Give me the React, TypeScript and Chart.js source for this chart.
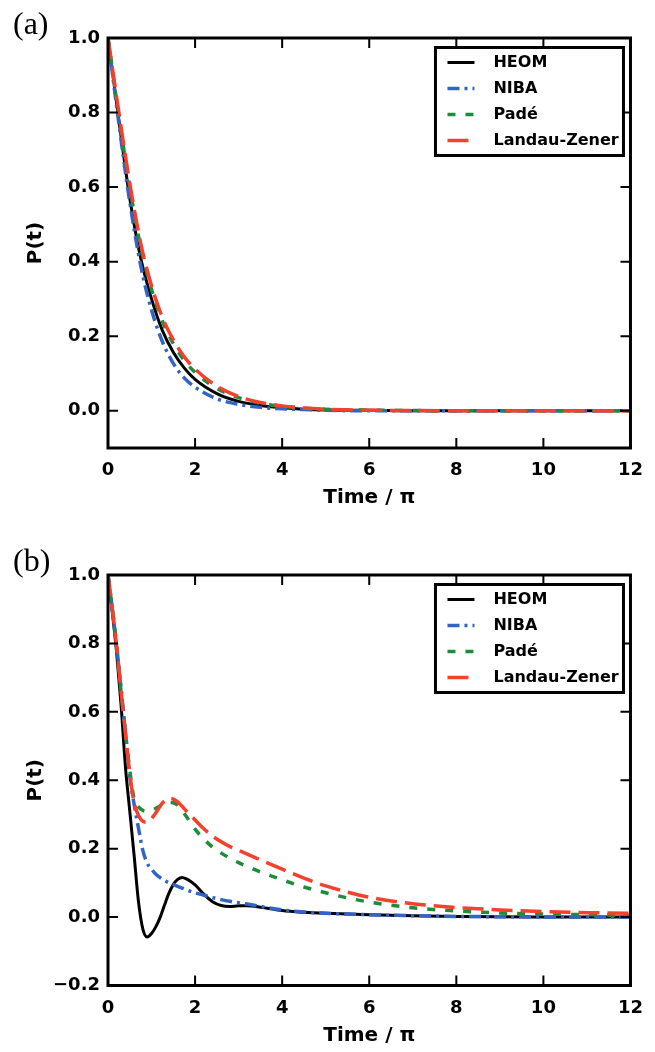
import React, { useEffect, useRef } from 'react';
import { Chart, registerables } from 'chart.js';

Chart.register(...registerables);

// ---------- DATA ----------
const SERIES_NAMES = ['HEOM', 'NIBA', 'Padé', 'Landau-Zener'];
const X_TICK_STEP = 2;
const Y_TICK_STEP = 0.2;

// Panel (a)
const TIME_A = [0, 0.25, 0.5, 0.75, 1, 1.25, 1.5, 1.75, 2, 2.5, 3, 3.5, 4, 4.5, 5, 6, 7, 8, 9, 10, 11, 12];
const HEOM_A = [1.0, 0.78, 0.57, 0.41, 0.30, 0.215, 0.157, 0.115, 0.084, 0.046, 0.025, 0.014, 0.008, 0.004, 0.002, 0.001, 0, 0, 0, 0, 0, 0];
const NIBA_A = [1.0, 0.77, 0.56, 0.39, 0.27, 0.185, 0.127, 0.088, 0.063, 0.032, 0.017, 0.009, 0.005, 0.003, 0.001, 0, 0, 0, 0, 0, 0, 0];
const PADE_A = [1.0, 0.79, 0.60, 0.44, 0.325, 0.24, 0.18, 0.135, 0.103, 0.06, 0.035, 0.02, 0.012, 0.007, 0.004, 0.0015, 0.0005, 0, 0, 0, 0, 0];
const LZ_A = [1.0, 0.80, 0.61, 0.45, 0.335, 0.25, 0.19, 0.145, 0.112, 0.066, 0.038, 0.022, 0.013, 0.007, 0.004, 0.0015, 0.0005, 0, 0, 0, 0, 0];

// Panel (b)
const TIME_B = [0, 0.1, 0.2, 0.3, 0.4, 0.5, 0.6, 0.7, 0.8, 0.9, 1.0, 1.1, 1.2, 1.3, 1.4, 1.5, 1.6, 1.7, 1.8, 1.9, 2.0, 2.2, 2.4, 2.6, 2.8, 3.0, 3.2, 3.5, 4, 4.5, 5, 5.5, 6, 7, 8, 9, 10, 11, 12];
const HEOM_B = [1.0, 0.89, 0.77, 0.62, 0.44, 0.31, 0.18, 0.045, -0.035, -0.058, -0.048, -0.028, 0.0, 0.036, 0.07, 0.095, 0.11, 0.116, 0.112, 0.104, 0.094, 0.067, 0.045, 0.034, 0.031, 0.033, 0.033, 0.029, 0.019, 0.014, 0.011, 0.009, 0.007, 0.004, 0.002, 0.001, 0.0005, 0, 0];
const NIBA_B = [1.0, 0.90, 0.79, 0.67, 0.54, 0.41, 0.33, 0.26, 0.195, 0.158, 0.14, 0.125, 0.115, 0.107, 0.10, 0.095, 0.09, 0.085, 0.08, 0.075, 0.071, 0.064, 0.057, 0.051, 0.046, 0.042, 0.038, 0.031, 0.021, 0.015, 0.011, 0.009, 0.007, 0.004, 0.002, 0.001, 0.0005, 0, 0];
const PADE_B = [1.0, 0.90, 0.79, 0.66, 0.54, 0.43, 0.345, 0.322, 0.312, 0.31, 0.312, 0.318, 0.325, 0.331, 0.335, 0.334, 0.327, 0.312, 0.294, 0.275, 0.257, 0.228, 0.205, 0.187, 0.172, 0.159, 0.148, 0.132, 0.109, 0.088, 0.071, 0.056, 0.044, 0.027, 0.018, 0.012, 0.009, 0.007, 0.005];
const LZ_B = [1.0, 0.90, 0.79, 0.66, 0.54, 0.42, 0.335, 0.297, 0.28, 0.277, 0.288, 0.305, 0.325, 0.34, 0.347, 0.345, 0.337, 0.324, 0.31, 0.297, 0.284, 0.258, 0.237, 0.22, 0.206, 0.195, 0.184, 0.167, 0.14, 0.114, 0.091, 0.073, 0.058, 0.039, 0.028, 0.021, 0.016, 0.013, 0.011];

// ---------- STYLE ----------
const COLORS = ['#000000', '#3263c8', '#1e8c3c', '#f4402c'];
const DASHES: number[][] = [[], [12, 5, 3, 5], [8, 10], [21, 8]];
const WIDTHS = [3, 3.5, 3.5, 3.5];
const ORDERS = [3, 2, 1, 0];
const FONT_FAMILY = '"DejaVu Sans", "Liberation Sans", sans-serif';

const fmt = (v: number) => (v < -1e-9 ? '\u2212' : '') + Math.abs(v).toFixed(1);

const framePlugin = {
  id: 'frameTicks',
  afterDatasetsDraw(chart: any) {
    const { ctx, chartArea: a, scales } = chart;
    const len = 10;
    ctx.save();
    ctx.setLineDash([]);
    ctx.strokeStyle = '#000';
    ctx.lineWidth = 2;
    ctx.beginPath();
    scales.x.ticks.forEach((t: any) => {
      const px = scales.x.getPixelForValue(t.value);
      ctx.moveTo(px, a.bottom);
      ctx.lineTo(px, a.bottom - len);
      ctx.moveTo(px, a.top);
      ctx.lineTo(px, a.top + len);
    });
    scales.y.ticks.forEach((t: any) => {
      const py = scales.y.getPixelForValue(t.value);
      ctx.moveTo(a.left, py);
      ctx.lineTo(a.left + len, py);
      ctx.moveTo(a.right, py);
      ctx.lineTo(a.right - len, py);
    });
    ctx.stroke();
    ctx.lineWidth = 3;
    ctx.strokeRect(a.left, a.top, a.right - a.left, a.bottom - a.top);
    ctx.restore();
  },
};

const legendPlugin = {
  id: 'insideLegend',
  afterDatasetsDraw(chart: any) {
    const { ctx, chartArea: a } = chart;
    const w = 188;
    const h = 108;
    const x = a.right - 195;
    const y = a.top + 9.5;
    ctx.save();
    ctx.fillStyle = '#ffffff';
    ctx.fillRect(x, y, w, h);
    ctx.setLineDash([]);
    ctx.lineWidth = 3;
    ctx.strokeStyle = '#000';
    ctx.strokeRect(x, y, w, h);
    chart.data.datasets.forEach((ds: any, i: number) => {
      const cy = y + 15 + i * 26;
      ctx.beginPath();
      ctx.strokeStyle = ds.borderColor;
      ctx.lineWidth = ds.borderWidth;
      ctx.setLineDash(ds.borderDash || []);
      ctx.moveTo(x + 12, cy);
      ctx.lineTo(x + 39, cy);
      ctx.stroke();
      ctx.setLineDash([]);
      ctx.fillStyle = '#000';
      ctx.font = `bold 16px ${FONT_FAMILY}`;
      ctx.textBaseline = 'middle';
      ctx.textAlign = 'left';
      ctx.fillText(ds.label, x + 58, cy);
    });
    ctx.restore();
  },
};

type PanelProps = {
  time: number[];
  series: number[][];
  yMin: number;
  height: number;
  padTop: number;
  xAxisH: number;
  titlePad: number;
};

function Panel({ time, series, yMin, height, padTop, xAxisH, titlePad }: PanelProps) {
  const ref = useRef<HTMLCanvasElement | null>(null);
  useEffect(() => {
    if (!ref.current) return;
    const tickFont = { family: FONT_FAMILY, size: 18, weight: 'bold' as const };
    const chart = new Chart(ref.current, {
      type: 'line',
      data: {
        datasets: series.map((vals, i) => ({
          label: SERIES_NAMES[i],
          data: time.map((t, j) => ({ x: t, y: vals[j] })),
          borderColor: COLORS[i],
          backgroundColor: COLORS[i],
          borderDash: DASHES[i],
          borderWidth: WIDTHS[i],
          pointRadius: 0,
          fill: false,
          cubicInterpolationMode: 'monotone' as const,
          order: ORDERS[i],
        })),
      },
      options: {
        responsive: false,
        animation: false,
        layout: { padding: { top: padTop, right: 16, left: 0, bottom: 0 } },
        plugins: { legend: { display: false }, tooltip: { enabled: false } },
        scales: {
          x: {
            type: 'linear',
            min: 0,
            max: 12,
            afterFit: (s: any) => { s.height = xAxisH; },
            grid: { display: false, drawTicks: false },
            border: { display: false },
            ticks: { stepSize: X_TICK_STEP, padding: 12, color: '#000', font: tickFont, maxRotation: 0, autoSkip: false },
            title: { display: true, text: 'Time / π', color: '#000', font: { family: FONT_FAMILY, size: 20, weight: 'bold' }, padding: { top: 0, bottom: titlePad } },
          },
          y: {
            type: 'linear',
            min: yMin,
            max: 1,
            afterFit: (s: any) => { s.width = 108; },
            grid: { display: false, drawTicks: false },
            border: { display: false },
            ticks: { stepSize: Y_TICK_STEP, includeBounds: false, padding: 8, color: '#000', font: tickFont, callback: (v: any) => fmt(Number(v)) },
            title: { display: true, text: 'P(t)', color: '#000', font: { family: FONT_FAMILY, size: 20, weight: 'bold' }, padding: { top: 24, bottom: 0 } },
          },
        },
      },
      plugins: [framePlugin, legendPlugin],
    } as any);
    return () => chart.destroy();
  }, []);
  return <canvas ref={ref} width={655} height={height} style={{ display: 'block' }} />;
}

const labelStyle: React.CSSProperties = {
  position: 'absolute',
  left: 13,
  fontFamily: '"Liberation Serif", "DejaVu Serif", serif',
  fontSize: 32,
  lineHeight: '32px',
  color: '#000',
};

export default function App() {
  return (
    <div style={{ position: 'absolute', left: 0, top: 0, width: 655, height: 1052, background: '#fff', overflow: 'hidden' }}>
      <div style={{ position: 'absolute', left: 0, top: 0 }}>
        <Panel time={TIME_A} series={[HEOM_A, NIBA_A, PADE_A, LZ_A]} yMin={-0.1} height={520} padTop={38} xAxisH={72} titlePad={10} />
      </div>
      <div style={{ position: 'absolute', left: 0, top: 520 }}>
        <Panel time={TIME_B} series={[HEOM_B, NIBA_B, PADE_B, LZ_B]} yMin={-0.2} height={532} padTop={55} xAxisH={66.5} titlePad={4} />
      </div>
      <div style={{ ...labelStyle, top: 7 }}>(a)</div>
      <div style={{ ...labelStyle, top: 544 }}>(b)</div>
    </div>
  );
}
